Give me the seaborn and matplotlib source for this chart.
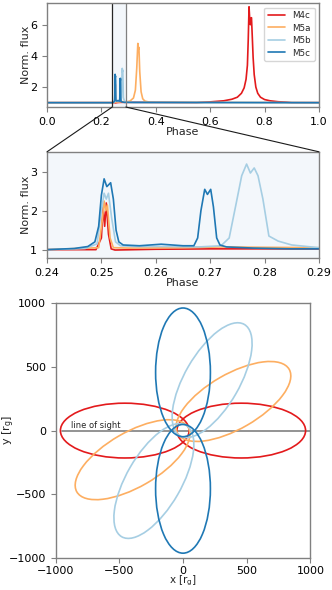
import numpy as np
import matplotlib
matplotlib.use("Agg")
import matplotlib.pyplot as plt
from matplotlib.patches import Ellipse, ConnectionPatch
import seaborn as sns

# light curves: key points (phase, normalised flux)
models = ["M4c", "M5a", "M5b", "M5c"]
colors = ["#e31a1c", "#fdae61", "#a6cee3", "#1f78b4"]

phase_m4c = [0.0, 0.24, 0.2490, 0.2500, 0.2503, 0.2506, 0.2509, 0.2513, 0.2518, 0.2525,
             0.26, 0.27, 0.29, 0.55, 0.6, 0.65, 0.68, 0.70, 0.715, 0.725, 0.732, 0.737,
             0.740, 0.743, 0.746, 0.748, 0.750, 0.752, 0.755, 0.758, 0.762, 0.768,
             0.775, 0.785, 0.80, 0.82, 0.85, 0.88, 0.9, 1.0]
flux_m4c = [1.0, 1.0, 1.0, 1.3, 2.1, 1.6, 2.2, 1.4, 1.02, 0.99,
            1.01, 1.02, 1.02, 1.0, 1.05, 1.12, 1.22, 1.35, 1.6, 1.95, 2.5, 3.4,
            5.0, 7.15, 6.2, 6.0, 6.4, 6.45, 5.2, 3.9, 2.8, 2.0,
            1.6, 1.35, 1.2, 1.12, 1.06, 1.03, 1.0, 1.0]

phase_m5a = [0.0, 0.24, 0.2495, 0.2502, 0.2505, 0.2508, 0.2511, 0.2516, 0.2522, 0.255,
             0.265, 0.272, 0.28, 0.29, 0.305, 0.318, 0.325, 0.330, 0.334, 0.336,
             0.338, 0.341, 0.346, 0.352, 0.36, 0.38, 1.0]
flux_m5a = [1.0, 1.0, 1.05, 1.8, 2.25, 2.0, 2.15, 1.3, 1.05, 1.04,
            1.05, 1.07, 1.06, 1.05, 1.1, 1.3, 1.8, 3.2, 4.8, 4.4,
            4.55, 3.0, 1.7, 1.25, 1.1, 1.02, 1.0]

phase_m5b = [0.0, 0.24, 0.247, 0.2492, 0.2500, 0.2505, 0.2509, 0.2513, 0.2519, 0.2526,
             0.2535, 0.256, 0.262, 0.268, 0.272, 0.2735, 0.2748, 0.2758, 0.2767, 0.2774,
             0.2781, 0.2788, 0.2797, 0.2808, 0.2825, 0.285, 0.29, 0.30, 0.32, 1.0]
flux_m5b = [1.0, 1.0, 1.03, 1.15, 2.0, 2.45, 2.3, 2.45, 1.8, 1.2,
            1.1, 1.08, 1.08, 1.07, 1.1, 1.3, 2.2, 2.9, 3.2, 2.97,
            3.1, 2.9, 2.3, 1.35, 1.22, 1.12, 1.05, 1.02, 1.0, 1.0]

phase_m5c = [0.0, 0.24, 0.245, 0.2475, 0.2488, 0.2495, 0.2500, 0.2505, 0.2510, 0.2517,
             0.2522, 0.2527, 0.2532, 0.254, 0.257, 0.261, 0.265, 0.2670, 0.2677, 0.2683,
             0.2690, 0.2695, 0.2701, 0.2706, 0.2712, 0.2718, 0.273, 0.278, 0.285, 0.29, 1.0]
flux_m5c = [1.0, 1.0, 1.03, 1.08, 1.2, 1.6, 2.4, 2.82, 2.62, 2.72,
            2.3, 1.5, 1.2, 1.12, 1.1, 1.14, 1.1, 1.1, 1.3, 2.0,
            2.55, 2.42, 2.55, 2.1, 1.3, 1.12, 1.07, 1.04, 1.02, 1.02, 1.0]

phases = [phase_m4c, phase_m5a, phase_m5b, phase_m5c]
fluxes = [flux_m4c, flux_m5a, flux_m5b, flux_m5c]

zoom_range = [0.24, 0.29]

# orbits: same ellipse, rotated, focus at the origin, plus its mirror
orbit_angles = [0, 30, 60, 90]
semi_major = 505
semi_minor = 215
los_start = -950

sns.set_style("ticks")
plt.rcParams.update({
    "font.family": ["DejaVu Sans"],
    "font.size": 8,
    "axes.edgecolor": "0.5",
    "xtick.color": "0.5",
    "ytick.color": "0.5",
    "xtick.labelcolor": "black",
    "ytick.labelcolor": "black",
    "xtick.labelsize": 8,
    "ytick.labelsize": 8,
    "axes.labelsize": 8,
    "axes.linewidth": 1.0,
})
shade = "#f3f7fb"

fig = plt.figure(figsize=(3.32, 5.90), dpi=100)
ax1 = fig.add_axes([0.1416, 0.8186, 0.819, 0.176])
ax2 = fig.add_axes([0.1416, 0.5627, 0.819, 0.180])
ax3 = fig.add_axes([0.1657, 0.0542, 0.771, 0.432])

# top: full phase
for name, col, ph, fl in zip(models, colors, phases, fluxes):
    sns.lineplot(x=ph, y=fl, ax=ax1, color=col, lw=1.2, label=name,
                 estimator=None, sort=False)
ax1.axvspan(zoom_range[0], zoom_range[1], color=shade, zorder=0)
ax1.axvline(zoom_range[0], color="0.15", lw=0.9)
ax1.axvline(zoom_range[1], color="0.5", lw=0.9)
ax1.set_xlim(0, 1)
ax1.set_ylim(0.72, 7.38)
ax1.set_yticks([2, 4, 6])
ax1.set_xlabel("Phase", labelpad=0)
ax1.set_ylabel("Norm. flux")
ax1.yaxis.set_label_coords(-0.058, 0.5)
ax1.legend(loc="upper right", fontsize=6.3, frameon=True, handlelength=2,
           borderpad=0.4, labelspacing=0.4)

# middle: zoom
for name, col, ph, fl in zip(models, colors, phases, fluxes):
    sns.lineplot(x=ph, y=fl, ax=ax2, color=col, lw=1.2,
                 estimator=None, sort=False)
ax2.set_facecolor(shade)
ax2.set_xlim(*zoom_range)
ax2.set_ylim(0.785, 3.515)
ax2.set_yticks([1, 2, 3])
ax2.set_xticks([0.24, 0.25, 0.26, 0.27, 0.28, 0.29])
ax2.set_xlabel("Phase", labelpad=0)
ax2.set_ylabel("Norm. flux")
ax2.yaxis.set_label_coords(-0.058, 0.5)

for xv in zoom_range:
    con = ConnectionPatch(xyA=(xv, 0.72), coordsA="data", axesA=ax1,
                          xyB=(xv, 3.515), coordsB="data", axesB=ax2,
                          color="0.1", lw=0.8)
    fig.add_artist(con)

# bottom: orbits
focal = np.sqrt(semi_major**2 - semi_minor**2)
for col, ang in zip(colors, orbit_angles):
    for rot in [ang, ang + 180]:
        t = np.deg2rad(rot)
        ell = Ellipse((focal * np.cos(t), focal * np.sin(t)), 2 * semi_major, 2 * semi_minor,
                      angle=rot, fill=False, edgecolor=col, lw=1.2)
        ax3.add_patch(ell)
ax3.plot([los_start, 1000], [0, 0], color="0.5", lw=1.2, zorder=0)
ax3.text(-880, 5, "line of sight", fontsize=6, va="bottom", ha="left")
ax3.set_xlim(-1000, 1000)
ax3.set_ylim(-1000, 1000)
ax3.set_aspect("equal")
ax3.set_xticks([-1000, -500, 0, 500, 1000])
ax3.set_yticks([-1000, -500, 0, 500, 1000])
ax3.tick_params(axis="x", pad=2)
ax3.set_xlabel(r"x [r$_{\rm g}$]", fontsize=7.5)
ax3.xaxis.set_label_coords(0.5, -0.061)
ax3.set_ylabel(r"y [r$_{\rm g}$]")
ax3.yaxis.set_label_coords(-0.153, 0.5)

fig.savefig("out.png", dpi=100)
